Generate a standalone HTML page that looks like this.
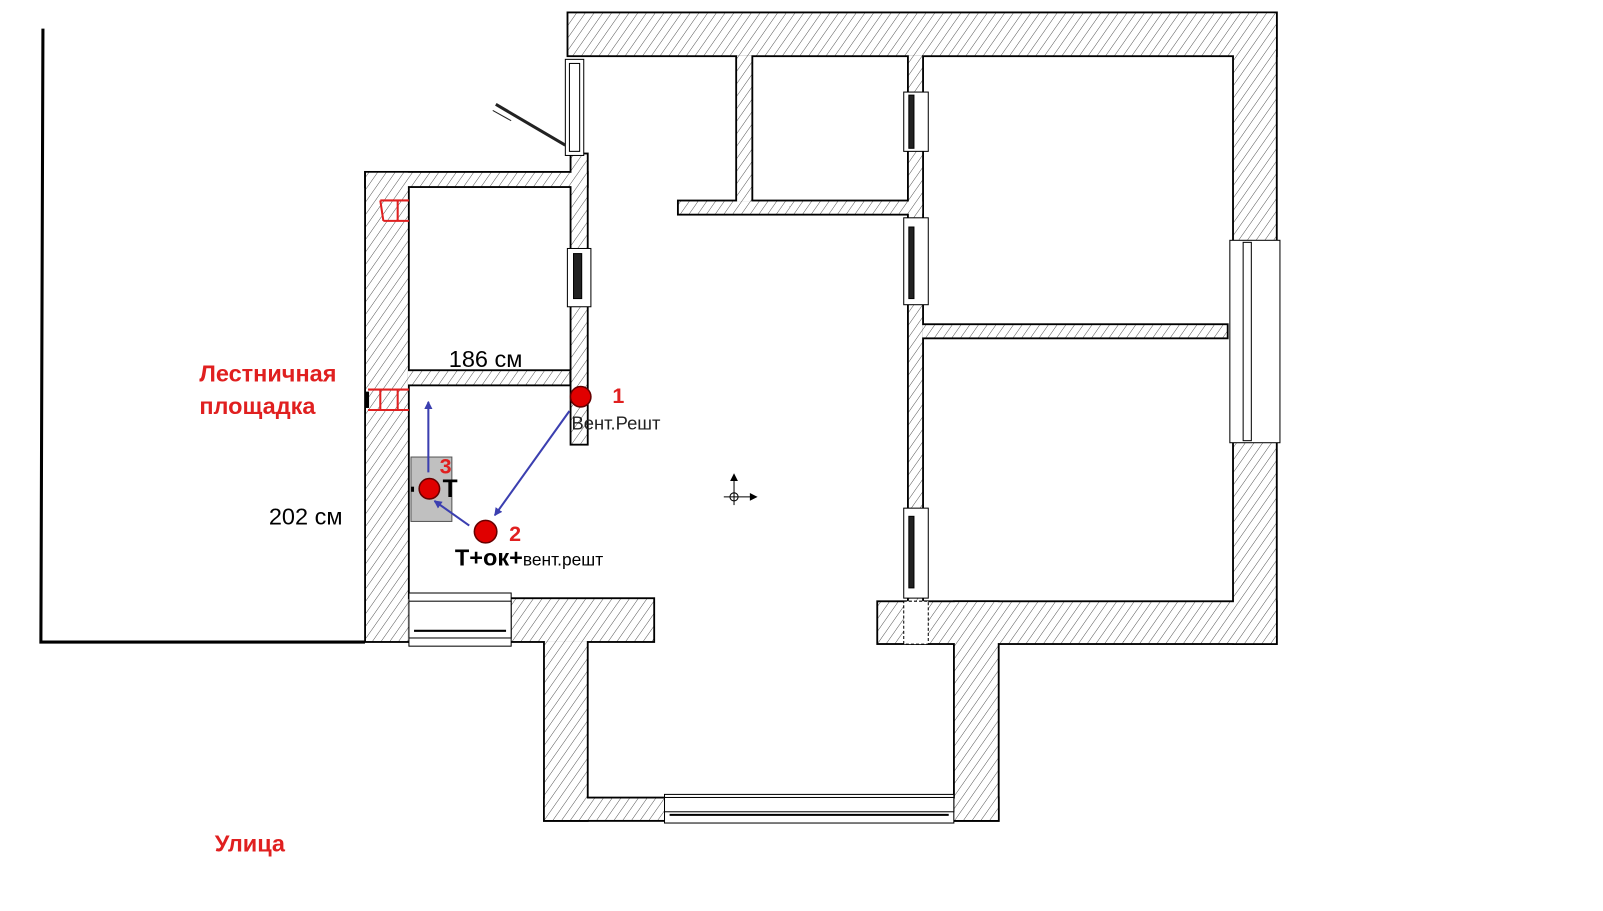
<!DOCTYPE html>
<html><head><meta charset="utf-8"><style>
html,body{margin:0;padding:0;background:#fff;}
svg{display:block;}
text{font-family:"Liberation Sans","DejaVu Sans",sans-serif;}
</style></head><body>
<svg width="1603" height="911" viewBox="0 0 1568 891" xmlns="http://www.w3.org/2000/svg">
<defs>
<pattern id="h" width="7" height="7" patternUnits="userSpaceOnUse" patternTransform="rotate(35)">
<rect width="7" height="7" fill="#fff"/><line x1="0" y1="0" x2="0" y2="7" stroke="#444" stroke-width="0.9"/>
</pattern>
<marker id="ar" markerWidth="8" markerHeight="8" refX="7" refY="4" orient="auto" markerUnits="userSpaceOnUse"><path d="M0,0 L8,4 L0,8 z" fill="#3b3fb0"/></marker>
</defs>
<g id="walls" stroke="#000" stroke-width="1.6">
<rect x="555" y="12" width="694" height="43"/>
<rect x="1206" y="12" width="43" height="618"/>
<rect x="558" y="150" width="17" height="285"/>
<rect x="357" y="168" width="218" height="15"/>
<rect x="357" y="168" width="43" height="460"/>
<rect x="400" y="362" width="158" height="15"/>
<rect x="400" y="585" width="240" height="43"/>
<rect x="532" y="628" width="43" height="175"/>
<rect x="532" y="780" width="445" height="23"/>
<rect x="933" y="588" width="44" height="215"/>
<rect x="858" y="588" width="391" height="42"/>
<rect x="720" y="55" width="16" height="141"/>
<rect x="663" y="196" width="240" height="14"/>
<rect x="888" y="55" width="15" height="533"/>
<rect x="903" y="317" width="298" height="14"/>
</g>
<g fill="url(#h)">
<rect x="556" y="13" width="692" height="41"/>
<rect x="1207" y="13" width="41" height="616"/>
<rect x="559" y="151" width="15" height="283"/>
<rect x="358" y="169" width="216" height="13"/>
<rect x="358" y="169" width="41" height="458"/>
<rect x="399" y="363" width="158" height="13"/>
<rect x="399" y="586" width="240" height="41"/>
<rect x="533" y="627" width="41" height="175"/>
<rect x="533" y="781" width="443" height="21"/>
<rect x="934" y="589" width="42" height="213"/>
<rect x="859" y="589" width="389" height="40"/>
<rect x="721" y="54" width="14" height="143"/>
<rect x="664" y="197" width="238" height="12"/>
<rect x="889" y="54" width="13" height="535"/>
<rect x="902" y="318" width="298" height="12"/>
</g>
<g fill="#fff" stroke="#000" stroke-width="1">
<rect x="553" y="58" width="18" height="94"/><rect x="557" y="62" width="10" height="86"/>
<rect x="555" y="243" width="23" height="57"/><rect x="561" y="248" width="8" height="44" fill="#222"/>
<rect x="884" y="90" width="24" height="58"/><rect x="889" y="93" width="5" height="52" fill="#222"/>
<rect x="884" y="213" width="24" height="85"/><rect x="889" y="222" width="5" height="70" fill="#222"/>
<rect x="884" y="497" width="24" height="88"/><rect x="889" y="505" width="5" height="70" fill="#222"/>
<rect x="1203" y="235" width="49" height="198"/><rect x="1216" y="237" width="8" height="194"/>
<rect x="400" y="580" width="100" height="52"/><rect x="400" y="588" width="100" height="36"/><line x1="405" y1="617" x2="495" y2="617" stroke-width="2"/>
<rect x="650" y="777" width="283" height="28"/><rect x="650" y="780" width="283" height="14"/><line x1="655" y1="797" x2="928" y2="797" stroke-width="2"/>
<rect x="884" y="588" width="24" height="42" stroke-dasharray="3,2"/>
</g>
<line x1="485" y1="102" x2="553" y2="142" stroke="#222" stroke-width="3"/>
<line x1="482" y1="108" x2="500" y2="118" stroke="#222" stroke-width="1"/>
<path d="M42,28 L40,628 L357,628" fill="none" stroke="#000" stroke-width="3"/>
<g fill="none" stroke="#e02020" stroke-width="2">
<path d="M372,196 L400,196 M375,216 L400,216 M372,196 L375,216 M389,196 L389,216"/>
<path d="M360,381 L400,381 M360,401 L400,401 M372,381 L372,401 M389,381 L389,401"/>
</g>
<rect x="357" y="383" width="4" height="16" fill="#000"/>
<rect x="402" y="447" width="40" height="63" fill="#c0c0c0" stroke="#555" stroke-width="1"/>
<rect x="402" y="476" width="3" height="5" fill="#000"/>
<g stroke="#3b3fb0" stroke-width="2" fill="none" marker-end="url(#ar)">
<line x1="557" y1="402" x2="484" y2="504"/>
<line x1="459" y1="514" x2="425" y2="490"/>
<line x1="419" y1="462" x2="419" y2="393"/>
</g>
<g fill="#e00000" stroke="#600" stroke-width="1.5">
<circle cx="568" cy="388" r="10"/><circle cx="475" cy="520" r="11"/><circle cx="420" cy="478" r="10"/>
</g>
<g stroke="#000" stroke-width="1" fill="none">
<line x1="718" y1="466" x2="718" y2="494"/><line x1="708" y1="486" x2="740" y2="486"/><circle cx="718" cy="486" r="4"/>
<path d="M740,486 l-6,-3 v6 z M718,464 l-3,6 h6 z" fill="#000"/>
</g>
<g font-weight="bold" fill="#e02020" font-size="23">
<text x="195" y="373">Лестничная</text>
<text x="195" y="405">площадка</text>
<text x="210" y="833">Улица</text>
<text x="599" y="394" font-size="21">1</text>
<text x="498" y="529" font-size="21">2</text>
<text x="430" y="463" font-size="21">3</text>
</g>
<text x="439" y="359" font-size="23" fill="#000">186 см</text>
<text x="263" y="513" font-size="23" fill="#000">202 см</text>
<text x="559" y="420" font-size="18" fill="#222">Вент.Решт</text>
<text x="433" y="486" font-size="24" font-weight="bold" fill="#000">T</text>
<text x="445" y="553" fill="#000"><tspan font-size="23" font-weight="bold">T+ок+</tspan><tspan font-size="17">вент.решт</tspan></text>
</svg>
</body></html>
